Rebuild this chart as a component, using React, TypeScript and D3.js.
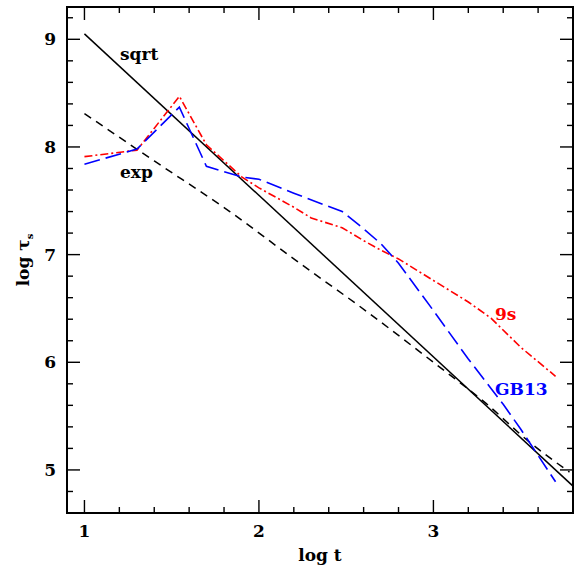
import React, { useRef, useEffect } from 'react';
import * as d3 from 'd3';

// log t vs log tau_s values
const sqrtLine: [number, number][] = [[1.0, 9.05], [3.8, 4.85]];
const expLine: [number, number][] = [
  [1.0, 8.31], [1.4, 7.87], [1.833, 7.40], [2.2, 6.96], [2.619, 6.47],
  [3.0, 6.0], [3.3, 5.62], [3.557, 5.25], [3.78, 4.98],
];
const series9s: [number, number][] = [
  [1.0, 7.91], [1.301, 7.97], [1.544, 8.47], [1.699, 8.02], [1.903, 7.72],
  [2.0, 7.62], [2.2, 7.44], [2.3, 7.34], [2.477, 7.25], [2.6, 7.13],
  [2.7, 7.04], [2.8, 6.96], [3.0, 6.76], [3.2, 6.56], [3.33, 6.41],
  [3.5, 6.14], [3.7, 5.87],
];
const seriesGB13: [number, number][] = [
  [1.0, 7.84], [1.301, 7.98], [1.544, 8.37], [1.699, 7.82], [1.903, 7.72],
  [2.0, 7.70], [2.2, 7.57], [2.477, 7.40], [2.6, 7.24], [2.7, 7.10],
  [2.8, 6.92], [3.0, 6.48], [3.2, 6.03], [3.4, 5.61], [3.5, 5.38],
  [3.7, 4.89],
];
const xTickLabels = [1, 2, 3];
const yTickLabels = [5, 6, 7, 8, 9];

const App = () => {
  const chart = useRef<SVGSVGElement>(null);

  useEffect(() => {
    const svg = d3.select(chart.current);
    svg.selectAll('*').remove();

    const left = 67, right = 573, top = 7, bottom = 513;
    const x = d3.scaleLinear().domain([0.9, 3.8]).range([left, right]);
    const y = d3.scaleLinear().domain([4.6, 9.3]).range([bottom, top]);
    const font = 'DejaVu Serif';

    svg.append('clipPath').attr('id', 'plotclip')
      .append('rect').attr('x', left).attr('y', top)
      .attr('width', right - left).attr('height', bottom - top);

    const g = svg.append('g').attr('clip-path', 'url(#plotclip)');
    const line = d3.line<[number, number]>().x(d => x(d[0])).y(d => y(d[1]));
    const curve = d3.line<[number, number]>().x(d => x(d[0])).y(d => y(d[1])).curve(d3.curveMonotoneX);

    g.append('path').datum(sqrtLine).attr('d', line)
      .attr('fill', 'none').attr('stroke', 'black').attr('stroke-width', 1.5);
    g.append('path').datum(expLine).attr('d', curve)
      .attr('fill', 'none').attr('stroke', 'black').attr('stroke-width', 1.5)
      .attr('stroke-dasharray', '8,6');
    g.append('path').datum(series9s).attr('d', line)
      .attr('fill', 'none').attr('stroke', '#ff0000').attr('stroke-width', 1.6)
      .attr('stroke-dasharray', '8,3,2,3');
    g.append('path').datum(seriesGB13).attr('d', line)
      .attr('fill', 'none').attr('stroke', '#0000ff').attr('stroke-width', 1.6)
      .attr('stroke-dasharray', '16,6');

    // ticks on all four sides, pointing inward
    const ax = svg.append('g').attr('stroke', 'black').attr('stroke-width', 1.4);
    const xMinor = d3.range(1.0, 3.81, 0.2).map(v => +v.toFixed(1));
    xMinor.forEach(v => {
      const len = Number.isInteger(v) ? 13 : 6;
      ax.append('line').attr('x1', x(v)).attr('x2', x(v)).attr('y1', bottom).attr('y2', bottom - len);
      ax.append('line').attr('x1', x(v)).attr('x2', x(v)).attr('y1', top).attr('y2', top + len);
    });
    const yMinor = d3.range(4.8, 9.21, 0.2).map(v => +v.toFixed(1));
    yMinor.forEach(v => {
      const len = Number.isInteger(v) ? 13 : 6;
      ax.append('line').attr('y1', y(v)).attr('y2', y(v)).attr('x1', left).attr('x2', left + len);
      ax.append('line').attr('y1', y(v)).attr('y2', y(v)).attr('x1', right).attr('x2', right - len);
    });

    svg.append('rect').attr('x', left).attr('y', top)
      .attr('width', right - left).attr('height', bottom - top)
      .attr('fill', 'none').attr('stroke', 'black').attr('stroke-width', 2);

    const txt = svg.append('g').attr('font-family', font).attr('font-size', 17)
      .attr('font-weight', 'bold');
    xTickLabels.forEach(v => {
      txt.append('text').attr('x', x(v)).attr('y', 537).attr('text-anchor', 'middle').text(v);
    });
    yTickLabels.forEach(v => {
      txt.append('text').attr('x', 56).attr('y', y(v) + 6).attr('text-anchor', 'end').text(v);
    });

    txt.append('text').attr('x', (left + right) / 2).attr('y', 561)
      .attr('text-anchor', 'middle').text('log  t');
    const yl = txt.append('text')
      .attr('transform', `translate(29,${(top + bottom) / 2}) rotate(-90)`)
      .attr('text-anchor', 'middle');
    yl.append('tspan').text('log  τ');
    yl.append('tspan').attr('font-size', 10).attr('dy', 4).text('s');

    txt.append('text').attr('x', 120).attr('y', 60).text('sqrt');
    txt.append('text').attr('x', 120).attr('y', 178).text('exp');
    txt.append('text').attr('x', 495).attr('y', 320).attr('fill', '#ff0000').text('9s');
    txt.append('text').attr('x', 495).attr('y', 395).attr('fill', '#0000ff').text('GB13');
  }, []);

  return (
    <div>
      <svg ref={chart} width={579} height={567}
        style={{ position: 'absolute', left: 0, top: 0, background: 'white' }}></svg>
    </div>
  );
};

export default App;
